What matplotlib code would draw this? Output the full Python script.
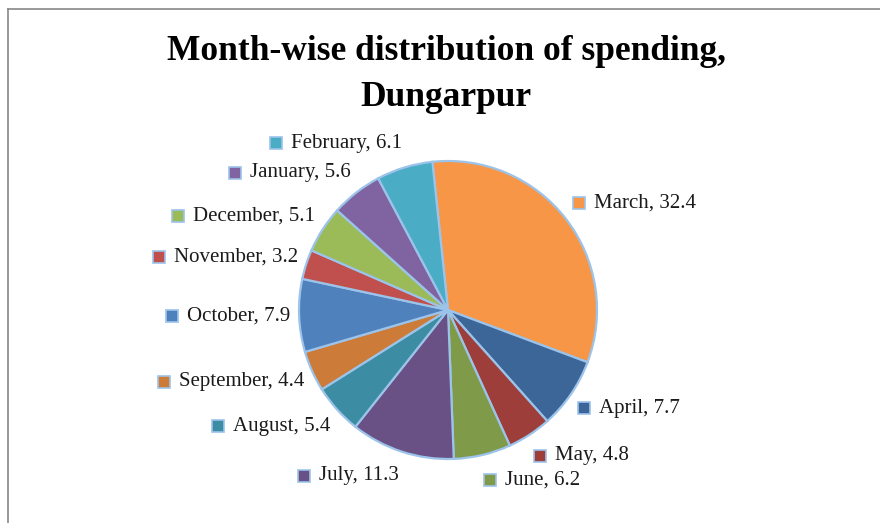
import numpy as np
import matplotlib
matplotlib.use("Agg")
import matplotlib.pyplot as plt
from matplotlib.lines import Line2D

months = ["March", "April", "May", "June", "July", "August", "September",
          "October", "November", "December", "January", "February"]
spending = [32.4, 7.7, 4.8, 6.2, 11.3, 5.4, 4.4, 7.9, 3.2, 5.1, 5.6, 6.1]
colors = ["#F79646", "#3C6598", "#9E3E3B", "#7F9A48", "#695185", "#3C8DA3",
          "#CC7B38", "#4F81BD", "#C0504D", "#9BBB59", "#8064A2", "#4BACC6"]
title_lines = ["Month-wise distribution of spending,", "Dungarpur"]

plt.rcParams['font.family'] = ['Liberation Serif', 'DejaVu Serif']

W, H = 880, 523
fig = plt.figure(figsize=(W / 100, H / 100), dpi=100)
ax = fig.add_axes([0, 0, 1, 1])

edge = "#9CC3EA"
start = 96
wedges, _ = ax.pie(spending, colors=colors, startangle=start, counterclock=False,
                   radius=1, center=(0, 0),
                   wedgeprops=dict(edgecolor=edge, linewidth=1.6))

# pie geometry in pixels -> radius is 1 data unit (set after pie, which resets limits)
cx, cy, R = 448, 310, 149
ax.set_aspect('auto')
ax.set_xlim(-cx / R, (W - cx) / R)
ax.set_ylim(-(H - cy) / R, cy / R)
ax.axis('off')

# data labels with a small legend key in front
total = sum(spending)
cum = np.cumsum([0] + spending[:-1])
fig.canvas.draw()
renderer = fig.canvas.get_renderer()
inv = ax.transData.inverted()
for name, val, col, c0 in zip(months, spending, colors, cum):
    mid = start - (c0 + val / 2) / total * 360
    a = np.deg2rad(mid)
    x = 1.06 * np.cos(a)
    y = 1.17 * np.sin(a)
    label = f"{name}, {val}"
    if np.cos(a) >= 0:
        ax.plot(x + 0.04, y, marker='s', ms=8, mfc=col, mec=edge, mew=1.2)
        ax.text(x + 0.14, y, label, ha='left', va='center', fontsize=15, color='#1a1a1a')
    else:
        t = ax.text(x, y, label, ha='right', va='center', fontsize=15, color='#1a1a1a')
        bb = t.get_window_extent(renderer)
        left = inv.transform((bb.x0, bb.y0))[0]
        ax.plot(left - 0.1, y, marker='s', ms=8, mfc=col, mec=edge, mew=1.2)

fig.text(446 / W, 1 - 51 / H, title_lines[0], ha='center', va='center',
         fontsize=25.5, fontweight='bold')
fig.text(446 / W, 1 - 98 / H, title_lines[1], ha='center', va='center',
         fontsize=25.5, fontweight='bold')

# chart frame (only left and top edges visible)
fig.add_artist(Line2D([7.5 / W, 7.5 / W], [0, 1 - 9 / H], transform=fig.transFigure,
                      color='#888888', lw=1.2))
fig.add_artist(Line2D([7.5 / W, 1], [1 - 9 / H, 1 - 9 / H], transform=fig.transFigure,
                      color='#888888', lw=1.2))

fig.savefig("out.png", dpi=100)
